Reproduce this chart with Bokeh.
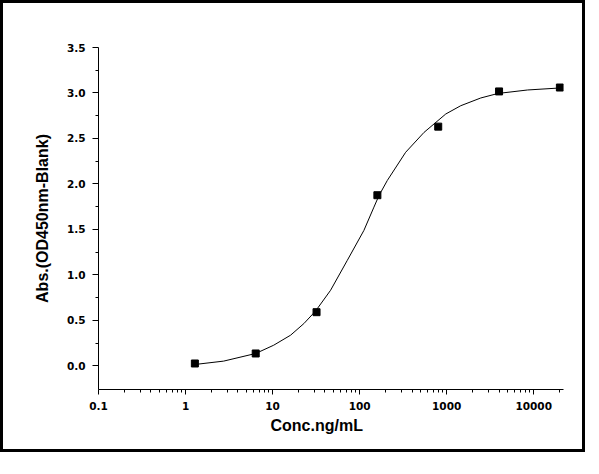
from bokeh.plotting import figure
from bokeh.models import Range1d, FixedTicker, CustomJSTickFormatter, PrintfTickFormatter, Title
from bokeh.embed import file_html
from bokeh.resources import INLINE

# measured standard points (concentration in ng/mL, blank-corrected OD450)
conc = [1.28, 6.4, 32, 160, 800, 4000, 20000]
od = [0.026, 0.136, 0.59, 1.876, 2.63, 3.017, 3.06]

# fitted curve
curve_x = [1.28, 2.74, 6.4, 10.3, 16.1, 22.9, 31.2, 46.4, 72.2, 112, 146, 167,
           208, 338, 550, 977, 1452, 2466, 3900, 8510, 20000]
curve_y = [0.015, 0.052, 0.136, 0.227, 0.337, 0.465, 0.603, 0.831, 1.160, 1.489,
           1.745, 1.873, 2.038, 2.348, 2.567, 2.769, 2.860, 2.945, 2.995, 3.033, 3.055]

x_ticks = [0.1, 1, 10, 100, 1000, 10000]
x_tick_labels = ["0.1", "1", "10", "100", "1000", "10000"]
y_ticks = [0.0, 0.5, 1.0, 1.5, 2.0, 2.5, 3.0, 3.5]
y_minor = [0.25, 0.75, 1.25, 1.75, 2.25, 2.75, 3.25]

x_minor = [m * t for t in x_ticks for m in range(2, 10) if m * t <= 22000]

p = figure(width=585, height=452, x_axis_type="log",
           x_range=Range1d(0.1, 22000), y_range=Range1d(-0.26, 3.5),
           output_backend="svg", toolbar_location=None, tools="",
           styles={"border": "3px solid black"})
p.min_border_left = 95
p.min_border_right = 25
p.min_border_top = 44
p.min_border_bottom = 66
p.grid.visible = False
p.outline_line_color = None
p.background_fill_color = "white"
p.border_fill_color = "white"

# x axis
p.xaxis.ticker = FixedTicker(ticks=x_ticks, minor_ticks=x_minor)
p.xaxis.formatter = CustomJSTickFormatter(
    args=dict(tvals=x_ticks, tlabels=x_tick_labels),
    code="""
    for (let i = 0; i < tvals.length; i++) {
        if (Math.abs(Math.log10(tvals[i]) - Math.log10(tick)) < 1e-6) return tlabels[i];
    }
    return "";
    """)

# y axis
p.yaxis.ticker = FixedTicker(ticks=y_ticks, minor_ticks=y_minor)
p.yaxis.formatter = PrintfTickFormatter(format="%.1f")
p.yaxis.axis_label = "Abs.(OD450nm-Blank)"

for ax in (p.xaxis[0], p.yaxis[0]):
    ax.axis_line_color = "black"
    ax.major_tick_line_color = "black"
    ax.minor_tick_line_color = "black"
    ax.major_tick_in = 0
    ax.minor_tick_in = 0
    ax.major_label_text_font = "DejaVu Sans"
    ax.major_label_text_font_style = "bold"
    ax.major_label_text_font_size = "10.5px"
    ax.major_label_text_color = "black"
    ax.axis_label_text_font = "Liberation Sans"
    ax.axis_label_text_font_style = "bold"
    ax.axis_label_text_font_size = "16px"
    ax.axis_label_text_color = "black"
    ax.major_label_standoff = 7

p.xaxis.major_tick_out = 5
p.xaxis.minor_tick_out = 3
p.yaxis.major_tick_out = 6
p.yaxis.minor_tick_out = 3
p.yaxis.axis_label_standoff = 13

# x title sits a bit left of the frame centre in the original
xtitle = Title(text="Conc.ng/mL", align="left", offset=172, standoff=4,
               text_font="Liberation Sans", text_font_style="bold",
               text_font_size="16px", text_color="black")
p.add_layout(xtitle, "below")

p.line(curve_x, curve_y, line_color="black", line_width=1)
p.scatter(conc, od, marker="square", size=7, fill_color="black", line_color="black")

open("out.html", "w").write(file_html(p, INLINE))
